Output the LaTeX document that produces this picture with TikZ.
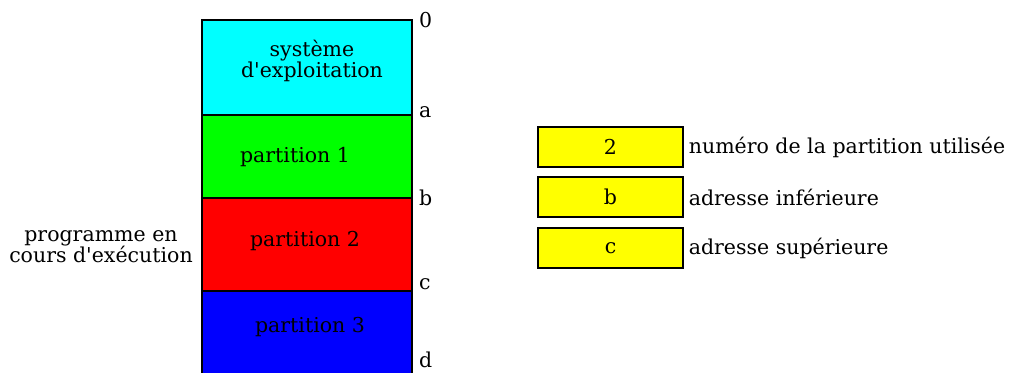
\documentclass[tikz,border=0pt]{standalone}
\usepackage{fontspec}
\setmainfont{DejaVu Serif}
\definecolor{oscol}{RGB}{0,255,255}
\definecolor{p1col}{RGB}{0,255,0}
\definecolor{p2col}{RGB}{255,0,0}
\definecolor{p3col}{RGB}{0,0,255}
\definecolor{regcol}{RGB}{255,255,0}
\begin{document}
\begin{tikzpicture}[x=1pt,y=-1pt,
  every node/.style={font=\fontsize{20.5}{21}\selectfont, inner sep=0pt},
  zone/.style={draw=black, line width=1.3pt, rectangle},
  reg/.style={draw=black, line width=1.3pt, fill=regcol, rectangle,
    minimum width=145pt, minimum height=40pt},
  addr/.style={anchor=west},
  txt/.style={align=center}]
\useasboundingbox (0,0) rectangle (1011,372);
\clip (0,0) rectangle (1011,372);
% memory column
\draw[zone, fill=oscol] (202,20) rectangle (412,115);
\draw[zone, fill=p1col] (202,115) rectangle (412,198);
\draw[zone, fill=p2col] (202,198) rectangle (412,291);
\draw[zone, fill=p3col] (202,291) rectangle (412,385);
\node[txt] (os) at (312,61) {système\\d\textquotesingle exploitation};
\node (p1) at (295,157) {partition 1};
\node (p2) at (305,241) {partition 2};
\node (p3) at (310,327) {partition 3};
% boundary addresses
\node[addr] (l0) at (419,20) {0};
\node[addr] (la) at (419,112) {a};
\node[addr] (lb) at (419,198) {b};
\node[addr] (lc) at (419,284) {c};
\node[addr] (ld) at (419,360) {d};
% running program
\node[txt] (prog) at (101,247) {programme en\\cours d\textquotesingle exécution};
% registers
\node[reg] (r1) at (610.5,147) {2};
\node[reg] (r2) at (610.5,197) {b};
\node[reg] (r3) at (610.5,248) {c};
\node[addr] (t1) at ([xshift=5pt]r1.east) {numéro de la partition utilisée};
\node[addr] (t2) at ([xshift=5pt]r2.east) {adresse inférieure};
\node[addr] (t3) at ([xshift=5pt]r3.east) {adresse supérieure};
\end{tikzpicture}
\end{document}
